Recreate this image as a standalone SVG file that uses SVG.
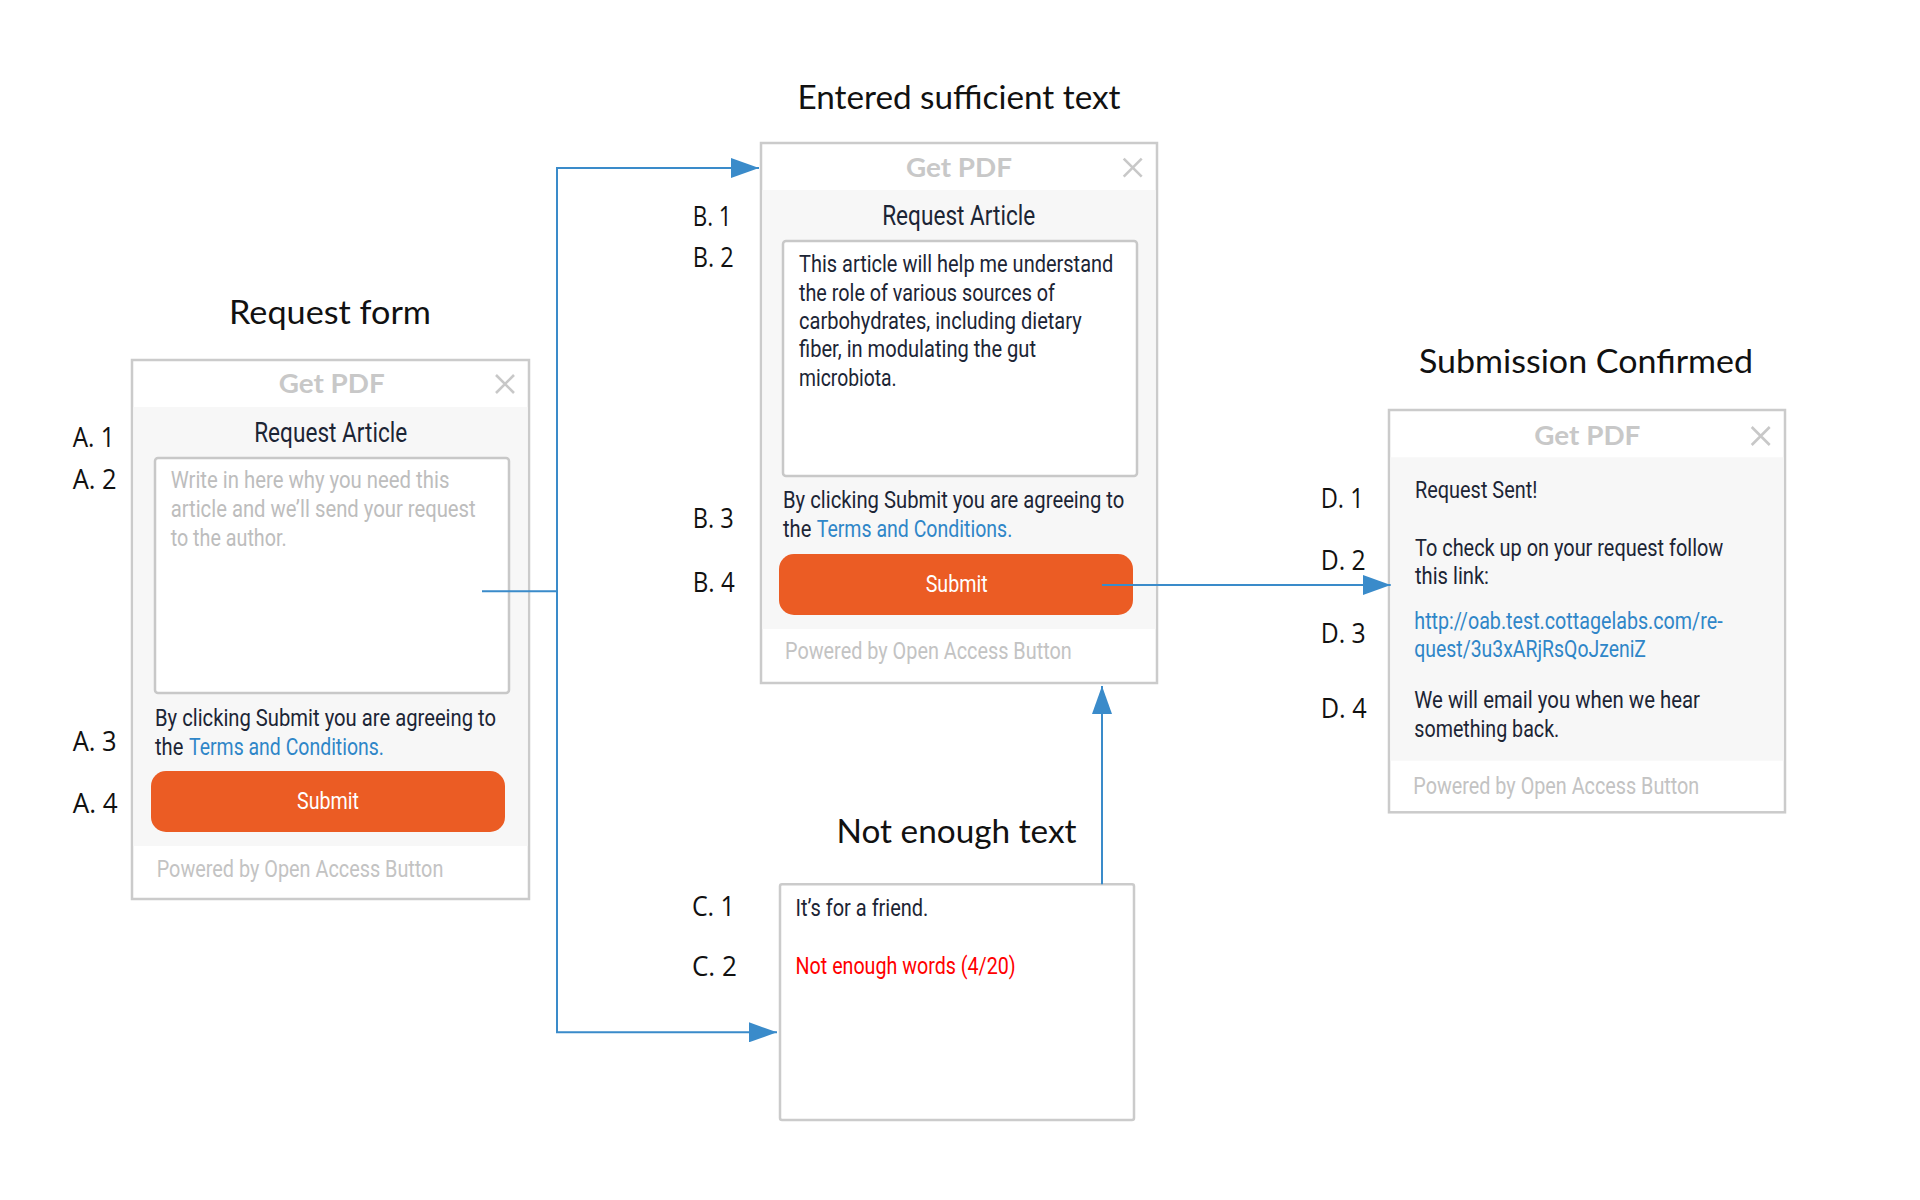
<svg xmlns="http://www.w3.org/2000/svg" width="1920" height="1200" viewBox="0 0 1920 1200">
<defs>
<style>
.title{font-family:Lato,"Open Sans",sans-serif;font-size:32px;fill:#111;text-anchor:middle}
.lbl{font-family:"Open Sans","Noto Sans",sans-serif;font-size:27px;fill:#111}
.frame{fill:#fff;stroke:#cbcbcb;stroke-width:2.5}
.body{fill:#f7f7f7}
.hdr{font-family:Lato,"Open Sans",sans-serif;font-weight:bold;font-size:26px;fill:#c8c8c8;text-anchor:middle}
.x{stroke:#c8c8c8;stroke-width:2.6;fill:none}
.ra{font-family:Roboto,sans-serif;font-size:28px;fill:#1c2535;text-anchor:middle}
.ta{fill:#fff;stroke:#c8c8c8;stroke-width:2.5}
.t{font-family:Roboto,sans-serif;font-size:23px;fill:#1c2535}
.ph{font-family:Roboto,sans-serif;font-size:23px;fill:#bdbdbd}
.link{fill:#2f86c8}
.red{font-family:Roboto,sans-serif;font-size:23px;fill:#ff0000}
.btn{fill:#eb5c24}
.btxt{font-family:Roboto,sans-serif;font-size:24px;fill:#fff;text-anchor:middle}
.pw{font-family:Roboto,sans-serif;font-size:23px;fill:#c3c3c3}
.conn{fill:none;stroke:#3a8bca;stroke-width:2}
</style>
<marker id="arr" viewBox="0 0 28 20" refX="28" refY="10" markerWidth="28" markerHeight="20" markerUnits="userSpaceOnUse" orient="auto">
<path d="M0,0 L28,10 L0,20 z" fill="#3a8bca"/>
</marker>
</defs>
<rect width="1920" height="1200" fill="#fff"/>

<g id="titles">
<text class="title" x="330" y="324" textLength="202" lengthAdjust="spacingAndGlyphs">Request form</text>
<text class="title" x="959" y="109" textLength="323" lengthAdjust="spacingAndGlyphs">Entered sufficient text</text>
<text class="title" x="956.5" y="843.3" textLength="240" lengthAdjust="spacingAndGlyphs">Not enough text</text>
<text class="title" x="1586" y="372.7" textLength="334" lengthAdjust="spacingAndGlyphs">Submission Confirmed</text>
</g>

<g id="panelA">
<rect class="frame" x="132" y="360" width="397" height="539"/>
<rect class="body" x="133.3" y="407" width="394.4" height="439"/>
<text class="hdr" x="331.7" y="393" textLength="106" lengthAdjust="spacingAndGlyphs">Get PDF</text>
<path class="x" d="M496,375 L514,393 M514,375 L496,393"/>
<text class="ra" x="330.7" y="441.7" textLength="153" lengthAdjust="spacingAndGlyphs">Request Article</text>
<rect class="ta" x="155" y="458" width="354" height="235" rx="3"/>
<text class="ph" x="170.7" y="488.3" textLength="278.7" lengthAdjust="spacingAndGlyphs">Write in here why you need this</text>
<text class="ph" x="170.7" y="517.3" textLength="305" lengthAdjust="spacingAndGlyphs">article and we’ll send your request</text>
<text class="ph" x="170.7" y="545.7" textLength="116" lengthAdjust="spacingAndGlyphs">to the author.</text>
<text class="t" x="155" y="726" textLength="341" lengthAdjust="spacingAndGlyphs">By clicking Submit you are agreeing to</text>
<text class="t" x="155" y="755" textLength="28.3" lengthAdjust="spacingAndGlyphs">the</text>
<text class="t link" x="189" y="755" textLength="195" lengthAdjust="spacingAndGlyphs">Terms and Conditions.</text>
<rect class="btn" x="151" y="771" width="354" height="61" rx="15"/>
<text class="btxt" x="328" y="809.3" textLength="62" lengthAdjust="spacingAndGlyphs">Submit</text>
<text class="pw" x="156.7" y="876.7" textLength="286.7" lengthAdjust="spacingAndGlyphs">Powered by Open Access Button</text>
<text class="lbl" x="72.7" y="446.7" textLength="42" lengthAdjust="spacingAndGlyphs">A. 1</text>
<text class="lbl" x="72.7" y="489.3" textLength="44" lengthAdjust="spacingAndGlyphs">A. 2</text>
<text class="lbl" x="72.7" y="750.7" textLength="44" lengthAdjust="spacingAndGlyphs">A. 3</text>
<text class="lbl" x="72.7" y="812.7" textLength="45" lengthAdjust="spacingAndGlyphs">A. 4</text>
</g>

<g id="panelB">
<rect class="frame" x="761" y="143" width="396" height="540"/>
<rect class="body" x="762.3" y="190" width="393.4" height="439"/>
<text class="hdr" x="959" y="176.7" textLength="106" lengthAdjust="spacingAndGlyphs">Get PDF</text>
<path class="x" d="M1123.7,158.7 L1141.7,176.7 M1141.7,158.7 L1123.7,176.7"/>
<text class="ra" x="958.7" y="225" textLength="153" lengthAdjust="spacingAndGlyphs">Request Article</text>
<rect class="ta" x="783" y="241" width="354" height="235" rx="3"/>
<text class="t" x="799" y="271.7" textLength="314.3" lengthAdjust="spacingAndGlyphs">This article will help me understand</text>
<text class="t" x="799" y="300.7" textLength="256" lengthAdjust="spacingAndGlyphs">the role of various sources of</text>
<text class="t" x="799" y="329.3" textLength="282.7" lengthAdjust="spacingAndGlyphs">carbohydrates, including dietary</text>
<text class="t" x="799" y="357.3" textLength="237" lengthAdjust="spacingAndGlyphs">fiber, in modulating the gut</text>
<text class="t" x="799" y="386" textLength="97.7" lengthAdjust="spacingAndGlyphs">microbiota.</text>
<text class="t" x="783" y="508.3" textLength="341.3" lengthAdjust="spacingAndGlyphs">By clicking Submit you are agreeing to</text>
<text class="t" x="783" y="537.3" textLength="28.3" lengthAdjust="spacingAndGlyphs">the</text>
<text class="t link" x="816.7" y="537.3" textLength="195.6" lengthAdjust="spacingAndGlyphs">Terms and Conditions.</text>
<rect class="btn" x="779" y="554" width="354" height="61" rx="15"/>
<text class="btxt" x="956.7" y="591.7" textLength="62" lengthAdjust="spacingAndGlyphs">Submit</text>
<text class="pw" x="785" y="659.3" textLength="286.7" lengthAdjust="spacingAndGlyphs">Powered by Open Access Button</text>
<text class="lbl" x="692.7" y="225.7" textLength="39" lengthAdjust="spacingAndGlyphs">B. 1</text>
<text class="lbl" x="692.7" y="267.3" textLength="41" lengthAdjust="spacingAndGlyphs">B. 2</text>
<text class="lbl" x="692.7" y="528.3" textLength="41" lengthAdjust="spacingAndGlyphs">B. 3</text>
<text class="lbl" x="692.7" y="591.7" textLength="42" lengthAdjust="spacingAndGlyphs">B. 4</text>
</g>

<g id="panelC">
<rect class="frame" x="780" y="884.3" width="354" height="235.7" rx="2"/>
<text class="t" x="795.6" y="915.7" textLength="132.8" lengthAdjust="spacingAndGlyphs">It’s for a friend.</text>
<text class="red" x="795.6" y="974" textLength="220" lengthAdjust="spacingAndGlyphs">Not enough words (4/20)</text>
<text class="lbl" x="691.9" y="915.7" textLength="43" lengthAdjust="spacingAndGlyphs">C. 1</text>
<text class="lbl" x="691.9" y="976" textLength="45" lengthAdjust="spacingAndGlyphs">C. 2</text>
</g>

<g id="panelD">
<rect class="frame" x="1389" y="410" width="396" height="402.3"/>
<rect class="body" x="1390.3" y="457.3" width="393.4" height="303.4"/>
<text class="hdr" x="1587.3" y="445" textLength="106" lengthAdjust="spacingAndGlyphs">Get PDF</text>
<path class="x" d="M1751.7,427 L1769.7,445 M1769.7,427 L1751.7,445"/>
<text class="t" x="1415" y="498.3" textLength="122.3" lengthAdjust="spacingAndGlyphs">Request Sent!</text>
<text class="t" x="1415" y="555.7" textLength="308.3" lengthAdjust="spacingAndGlyphs">To check up on your request follow</text>
<text class="t" x="1415" y="584" textLength="74" lengthAdjust="spacingAndGlyphs">this link:</text>
<text class="t link" x="1414.3" y="629" textLength="308.3" lengthAdjust="spacingAndGlyphs">http://oab.test.cottagelabs.com/re-</text>
<text class="t link" x="1414.3" y="656.7" textLength="231.7" lengthAdjust="spacingAndGlyphs">quest/3u3xARjRsQoJzeniZ</text>
<text class="t" x="1414.3" y="708.3" textLength="285.7" lengthAdjust="spacingAndGlyphs">We will email you when we hear</text>
<text class="t" x="1414.3" y="736.7" textLength="145" lengthAdjust="spacingAndGlyphs">something back.</text>
<text class="pw" x="1413.3" y="794" textLength="286" lengthAdjust="spacingAndGlyphs">Powered by Open Access Button</text>
<text class="lbl" x="1320.7" y="508.3" textLength="43" lengthAdjust="spacingAndGlyphs">D. 1</text>
<text class="lbl" x="1320.7" y="570" textLength="45" lengthAdjust="spacingAndGlyphs">D. 2</text>
<text class="lbl" x="1320.7" y="643.3" textLength="45" lengthAdjust="spacingAndGlyphs">D. 3</text>
<text class="lbl" x="1320.7" y="718.3" textLength="46" lengthAdjust="spacingAndGlyphs">D. 4</text>
</g>

<g id="connectors">
<path class="conn" d="M482,591.3 H557 V168 H759" marker-end="url(#arr)"/>
<path class="conn" d="M557,591.3 V1032.3 H777" marker-end="url(#arr)"/>
<path class="conn" d="M1102,585 H1390.7" marker-end="url(#arr)"/>
<path class="conn" d="M1102,884.3 V686" marker-end="url(#arr)"/>
</g>
</svg>
